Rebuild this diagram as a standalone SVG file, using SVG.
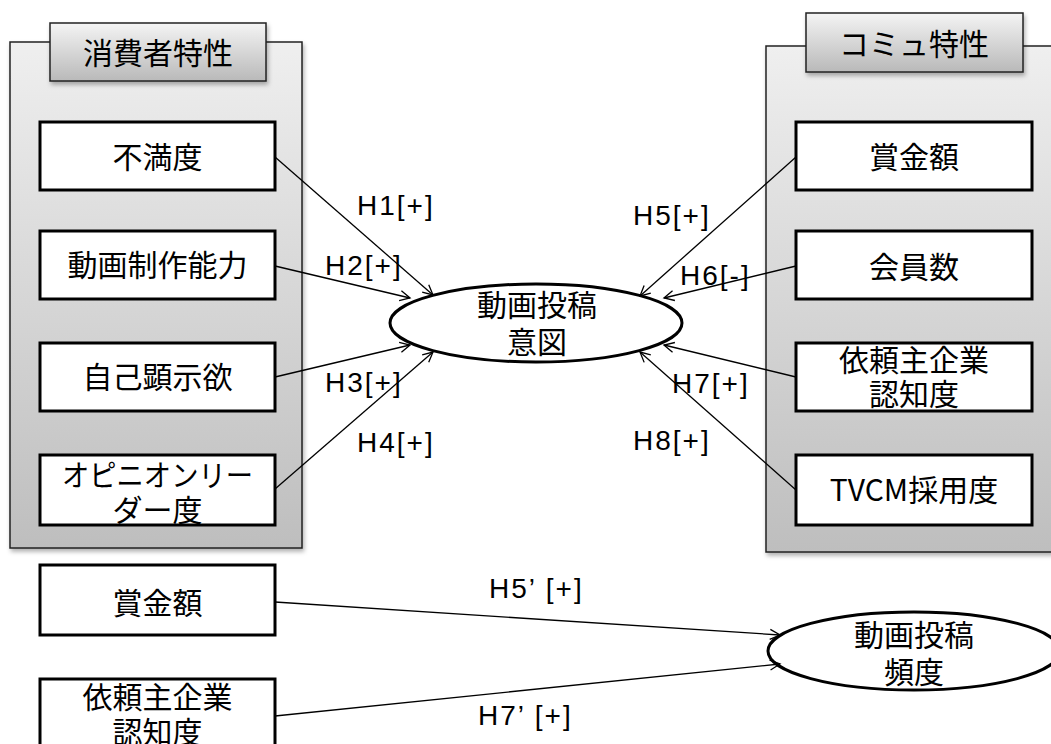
<svg xmlns="http://www.w3.org/2000/svg" width="1051" height="744" viewBox="0 0 1051 744">
<style>
.box{fill:#fff;stroke:#000;stroke-width:3}
.cont{fill:url(#gCont);stroke:#222;stroke-width:1.5;filter:url(#sh)}
.hdr{fill:url(#gHdr);stroke:#222;stroke-width:1.5;filter:url(#sh)}
.ell{fill:#fff;stroke:#000;stroke-width:3}
.jp{font-family:"Noto Sans CJK JP","Noto Sans CJK SC",sans-serif;font-size:30px;fill:#000;text-anchor:middle}
.lbl{font-family:"Liberation Sans",Arial,sans-serif;font-size:28px;fill:#000;letter-spacing:2px}
.con line{stroke:#000;stroke-width:1.3;marker-end:url(#arr)}
</style>
<defs>
<linearGradient id="gCont" x1="0" y1="0" x2="0" y2="1">
<stop offset="0" stop-color="#efefef"/>
<stop offset="1" stop-color="#bebebe"/>
</linearGradient>
<linearGradient id="gHdr" x1="0" y1="0" x2="0" y2="1">
<stop offset="0" stop-color="#f4f4f4"/>
<stop offset="1" stop-color="#b9b9b9"/>
</linearGradient>
<filter id="sh" x="-10%" y="-10%" width="120%" height="130%">
<feDropShadow dx="1.5" dy="3" stdDeviation="2" flood-color="#000" flood-opacity="0.3"/>
</filter>
<marker id="arr" markerUnits="userSpaceOnUse" markerWidth="14" markerHeight="14" refX="11" refY="6" orient="auto">
<path d="M1,1 L11,6 L1,11" fill="none" stroke="#000" stroke-width="1.3"/>
</marker>
</defs>

<g id="consumer-group">
<rect class="cont" x="10" y="42" width="292" height="506"/>
<rect class="hdr" x="50" y="23" width="216" height="58"/>
<text class="jp" x="158" y="64">消費者特性</text>
</g>
<g id="community-group">
<rect class="cont" x="766" y="46" width="300" height="506"/>
<rect class="hdr" x="806" y="13" width="217" height="59"/>
<text class="jp" x="914" y="55">コミュ特性</text>
</g>

<g id="n-fuman"><rect class="box" x="40" y="122" width="235" height="68"/><text class="jp" x="157.5" y="168">不満度</text></g>
<g id="n-seisaku"><rect class="box" x="40" y="231" width="235" height="68"/><text class="jp" x="157.5" y="276">動画制作能力</text></g>
<g id="n-kenji"><rect class="box" x="40" y="343" width="235" height="68"/><text class="jp" x="157.5" y="388">自己顕示欲</text></g>
<g id="n-opinion"><rect class="box" x="40" y="455" width="235" height="70"/><text class="jp" x="157.5" y="486" textLength="191" lengthAdjust="spacingAndGlyphs">オピニオンリー</text><text class="jp" x="157.5" y="521">ダー度</text></g>

<g id="n-shokin"><rect class="box" x="796" y="122" width="236" height="68"/><text class="jp" x="914" y="168">賞金額</text></g>
<g id="n-kaiin"><rect class="box" x="796" y="231" width="236" height="68"/><text class="jp" x="914" y="278">会員数</text></g>
<g id="n-ninchi"><rect class="box" x="796" y="343" width="236" height="68"/><text class="jp" x="914" y="371">依頼主企業</text><text class="jp" x="914" y="405">認知度</text></g>
<g id="n-tvcm"><rect class="box" x="796" y="455" width="236" height="70"/><text class="jp" x="914" y="501">TVCM採用度</text></g>

<g id="n-ito"><ellipse class="ell" cx="536" cy="323" rx="146" ry="39"/><text class="jp" x="537" y="316">動画投稿</text><text class="jp" x="537" y="353">意図</text></g>

<g id="n-shokin2"><rect class="box" x="40" y="565" width="235" height="70"/><text class="jp" x="157.5" y="614">賞金額</text></g>
<g id="n-ninchi2"><rect class="box" x="40" y="679" width="235" height="80"/><text class="jp" x="157.5" y="708">依頼主企業</text><text class="jp" x="157.5" y="743">認知度</text></g>

<g id="n-hindo"><ellipse class="ell" cx="914" cy="651" rx="146" ry="39"/><text class="jp" x="914" y="646">動画投稿</text><text class="jp" x="914" y="683">頻度</text></g>

<g id="connectors" class="con">
<line x1="275" y1="157" x2="433" y2="295"/>
<line x1="275" y1="266" x2="410" y2="298"/>
<line x1="275" y1="377" x2="410" y2="345"/>
<line x1="275" y1="489" x2="433" y2="352"/>
<line x1="796" y1="157" x2="640" y2="296"/>
<line x1="796" y1="266" x2="664" y2="298"/>
<line x1="796" y1="377" x2="664" y2="345"/>
<line x1="796" y1="490" x2="640" y2="352"/>
<line x1="275" y1="602" x2="780" y2="635"/>
<line x1="275" y1="716" x2="780" y2="664"/>
</g>

<g id="labels">
<text class="lbl" x="357" y="215">H1[+]</text>
<text class="lbl" x="325" y="275">H2[+]</text>
<text class="lbl" x="325" y="392">H3[+]</text>
<text class="lbl" x="357" y="452">H4[+]</text>
<text class="lbl" x="633" y="225">H5[+]</text>
<text class="lbl" x="680" y="285">H6[-]</text>
<text class="lbl" x="672" y="393">H7[+]</text>
<text class="lbl" x="633" y="450">H8[+]</text>
<text class="lbl" x="489" y="598">H5’ [+]</text>
<text class="lbl" x="478" y="725">H7’ [+]</text>
</g>
</svg>
